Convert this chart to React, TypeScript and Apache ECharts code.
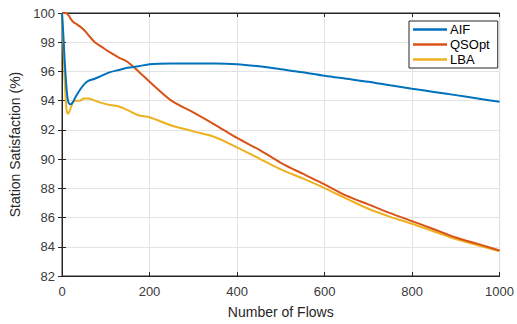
import React, { useEffect, useRef } from "react";
import * as echarts from "echarts";

const flows = [0, 3, 6, 10, 13, 16, 20, 25, 30, 40, 50, 60, 75, 90, 110, 130, 150, 175, 200, 250, 300, 350, 400, 450, 500, 550, 600, 650, 700, 750, 800, 850, 900, 950, 1000];
const aif = [100, 98.5, 96.8, 95.0, 94.1, 93.8, 93.75, 93.9, 94.2, 94.7, 95.1, 95.35, 95.5, 95.7, 95.95, 96.1, 96.25, 96.35, 96.5, 96.55, 96.55, 96.55, 96.5, 96.35, 96.15, 95.95, 95.7, 95.5, 95.3, 95.05, 94.82, 94.6, 94.38, 94.15, 93.92];
const qsopt = [100, 100, 100, 100, 99.9, 99.8, 99.6, 99.4, 99.3, 99.1, 98.85, 98.5, 98.0, 97.7, 97.3, 96.95, 96.65, 96.0, 95.3, 94.0, 93.2, 92.35, 91.45, 90.65, 89.75, 89.0, 88.27, 87.5, 86.9, 86.3, 85.76, 85.2, 84.64, 84.2, 83.75];
const lba = [100, 98, 95.5, 93.5, 93.1, 93.2, 93.5, 93.9, 94.0, 94.0, 94.15, 94.15, 94.0, 93.85, 93.7, 93.6, 93.35, 93.0, 92.87, 92.3, 91.9, 91.5, 90.8, 90.05, 89.3, 88.68, 88.02, 87.3, 86.6, 86.05, 85.58, 85.05, 84.53, 84.1, 83.7];
const seriesNames = ["AIF", "QSOpt", "LBA"];
const colors = ["#0072BD", "#D95319", "#EDB120"];

export default function App() {
  const ref = useRef<HTMLDivElement>(null);
  useEffect(() => {
    if (!ref.current) return;
    const chart = echarts.init(ref.current, null, { renderer: "svg" });
    const font = "Liberation Sans, Arial, sans-serif";
    const axisColor = "#262626";
    const labelColor = "#3a3a3a";
    const valuesList = [aif, qsopt, lba];
    const tick = { show: true, inside: true, length: 4, lineStyle: { color: axisColor } };
    chart.setOption({
      animation: false,
      backgroundColor: "#ffffff",
      grid: { left: 58, right: 15, top: 13, bottom: 41, containLabel: false, show: true, borderColor: axisColor, borderWidth: 1 },
      legend: {
        orient: "vertical",
        left: 409,
        top: 21,
        data: seriesNames.map((n) => ({ name: n, icon: "rect" })),
        itemWidth: 34,
        itemHeight: 2.5,
        itemGap: 2,
        padding: [2, 8, 2, 4],
        backgroundColor: "#ffffff",
        borderColor: axisColor,
        borderWidth: 1,
        borderRadius: 0,
        textStyle: { fontFamily: font, fontSize: 13, color: "#000", padding: [0, 0, 0, -2] },
      },
      xAxis: [
        {
          type: "value", min: 0, max: 1000, interval: 200,
          name: "Number of Flows", nameLocation: "middle", nameGap: 29,
          nameTextStyle: { fontFamily: font, fontSize: 14, color: axisColor },
          axisLine: { show: true, onZero: false, lineStyle: { color: axisColor } },
          axisTick: tick,
          axisLabel: { fontFamily: font, fontSize: 13, color: labelColor, margin: 9, formatter: (v: number) => String(v) },
          splitLine: { show: true, lineStyle: { color: "#e3e3e3", width: 1 } },
        },
        {
          type: "value", min: 0, max: 1000, interval: 200, position: "top",
          axisLine: { show: true, lineStyle: { color: axisColor } },
          axisTick: tick, axisLabel: { show: false }, splitLine: { show: false },
        },
      ],
      yAxis: [
        {
          type: "value", min: 82, max: 100, interval: 2,
          name: "Station Satisfaction (%)", nameLocation: "middle", nameGap: 40,
          nameTextStyle: { fontFamily: font, fontSize: 14, color: axisColor },
          axisLine: { show: true, onZero: false, lineStyle: { color: axisColor } },
          axisTick: tick,
          axisLabel: { fontFamily: font, fontSize: 13, color: labelColor, margin: 7 },
          splitLine: { show: true, lineStyle: { color: "#e3e3e3", width: 1 } },
        },
        {
          type: "value", min: 82, max: 100, interval: 2, position: "right",
          axisLine: { show: true, lineStyle: { color: axisColor } },
          axisTick: tick, axisLabel: { show: false }, splitLine: { show: false },
        },
      ],
      series: seriesNames.map((name, k) => ({
        name,
        type: "line",
        xAxisIndex: 0,
        yAxisIndex: 0,
        symbol: "none",
        smooth: 0.3,
        color: colors[k],
        lineStyle: { width: 2, color: colors[k] },
        data: flows.map((x, i) => [x, valuesList[k][i]]),
        z: 3 - k + 2,
      })),
    });
    return () => chart.dispose();
  }, []);
  return <div ref={ref} style={{ width: 517, height: 324, position: "absolute", left: 0, top: 0 }} />;
}
